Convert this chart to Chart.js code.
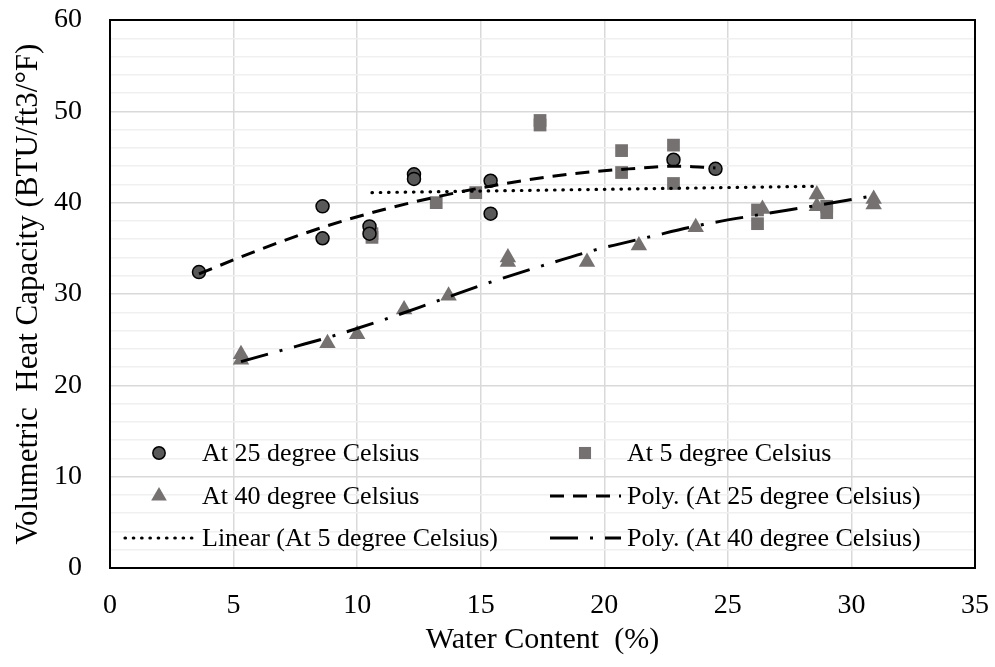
<!DOCTYPE html>
<html>
<head>
<meta charset="utf-8">
<script src="https://cdn.jsdelivr.net/npm/chart.js@4.4.1/dist/chart.umd.min.js"></script>
<style>
  html, body { margin:0; padding:0; background:#fff; }
  #wrap { width:995px; height:667px; }
</style>
</head>
<body>
<div id="wrap"><canvas id="chart" width="995" height="667"></canvas></div>
<script>
// ====== DATA ======
const xTicks = [0, 5, 10, 15, 20, 25, 30, 35];
const yTicks = [0, 10, 20, 30, 40, 50, 60];

// measured points
const wc25  = [3.6, 8.6, 8.6, 10.5, 10.5, 12.3, 12.3, 15.4, 15.4, 22.8, 24.5];
const vhc25 = [32.4, 39.6, 36.1, 37.4, 36.6, 43.1, 42.6, 42.4, 38.8, 44.7, 43.7];

const wc5   = [10.6, 10.6, 13.2, 14.8, 17.4, 17.4, 20.7, 20.7, 22.8, 22.8, 26.2, 26.2, 29.0, 29.0];
const vhc5  = [36.6, 36.2, 40.0, 41.1, 49.0, 48.5, 45.7, 43.3, 46.3, 42.1, 39.2, 37.7, 39.6, 38.9];

const wc40  = [5.3, 5.3, 8.8, 10.0, 11.9, 13.7, 16.1, 16.1, 19.3, 21.4, 23.7, 26.4, 28.6, 28.6, 30.9, 30.9];
const vhc40 = [23.4, 22.8, 24.6, 25.6, 28.3, 29.8, 34.0, 33.5, 33.5, 35.3, 37.3, 39.3, 40.9, 39.6, 40.4, 39.8];

// trendlines
const poly25X = [3.6, 6, 8.6, 11, 13.5, 16, 18.5, 21, 23, 24.5];
const poly25Y = [32.2, 34.8, 37.3, 39.2, 40.8, 42.1, 43.1, 43.7, 44.0, 43.8];

const lin5X = [10.6, 28.7];
const lin5Y = [41.1, 41.8];

const poly40X = [5.3, 6.9, 8.9, 11.1, 13.2, 15.4, 17.5, 19.6, 21.9, 24.0, 26.3, 28.6, 30.9];
const poly40Y = [22.6, 23.8, 25.3, 27.2, 29.2, 31.3, 33.1, 34.8, 36.3, 37.6, 38.7, 39.7, 40.75];
// ==================

const FONT = '"Liberation Serif", "Times New Roman", serif';
const pts = (xs, ys) => xs.map((x, i) => ({ x, y: ys[i] }));

// keep the plot area where the reference has it (labels may overflow)
function noLabelPadding(s){
  s.paddingTop = 0; s.paddingBottom = 0; s.paddingLeft = 0; s.paddingRight = 0;
}

// frame round the plot area
const framePlugin = {
  id: 'frame',
  beforeDatasetsDraw(chart){
    const { ctx, chartArea: a } = chart;
    ctx.save();
    ctx.strokeStyle = '#000';
    ctx.lineWidth = 2;
    ctx.strokeRect(a.left, a.top, a.right - a.left, a.bottom - a.top);
    ctx.restore();
  }
};

// legend inside the plot, two columns
const legendPlugin = {
  id: 'boxLegend',
  afterDatasetsDraw(chart){
    const ctx = chart.ctx;
    const markX = [159, 585], textX = [202, 627], rowY = [453, 496, 538];
    ctx.save();
    ctx.font = '26px ' + FONT;
    ctx.textBaseline = 'middle';
    chart.data.datasets.forEach((ds, i) => {
      const col = i % 2, row = Math.floor(i / 2);
      const y = rowY[row];
      if (ds.showLine) {
        ctx.save();
        ctx.strokeStyle = ds.borderColor;
        ctx.lineWidth = ds.borderWidth;
        ctx.lineCap = ds.borderCapStyle || 'butt';
        ctx.setLineDash(ds.borderDash || []);
        ctx.beginPath();
        ctx.moveTo(textX[col] - 77, y);
        ctx.lineTo(textX[col] - 6, y);
        ctx.stroke();
        ctx.restore();
      } else {
        ctx.save();
        ctx.fillStyle = ds.backgroundColor;
        ctx.strokeStyle = ds.borderColor;
        ctx.lineWidth = ds.borderWidth;
        Chart.helpers.drawPoint(ctx, {
          pointStyle: ds.pointStyle, radius: ds.pointRadius * 0.95,
          rotation: 0, borderWidth: ds.borderWidth
        }, markX[col], y);
        ctx.restore();
      }
      ctx.fillStyle = '#000';
      ctx.fillText(ds.label, textX[col], y + 1);
    });
    ctx.restore();
  }
};

const chart = new Chart(document.getElementById('chart'), {
  type: 'scatter',
  data: {
    datasets: [
      {
        label: 'At 25 degree Celsius', data: pts(wc25, vhc25),
        pointStyle: 'circle', pointRadius: 6.5,
        backgroundColor: '#595959', borderColor: '#000', borderWidth: 1.5, order: 1
      },
      {
        label: 'At 5 degree Celsius', data: pts(wc5, vhc5),
        pointStyle: 'rect', pointRadius: 9,
        backgroundColor: '#767171', borderColor: '#767171', borderWidth: 0, order: 1
      },
      {
        label: 'At 40 degree Celsius', data: pts(wc40, vhc40),
        pointStyle: 'triangle', pointRadius: 9.5,
        backgroundColor: '#767171', borderColor: '#767171', borderWidth: 0, order: 1
      },
      {
        label: 'Poly. (At 25 degree Celsius)', data: pts(poly25X, poly25Y),
        showLine: true, pointRadius: 0, borderColor: '#000', borderWidth: 3,
        borderDash: [14, 9], cubicInterpolationMode: 'monotone', order: 0
      },
      {
        label: 'Linear (At 5 degree Celsius)', data: pts(lin5X, lin5Y),
        showLine: true, pointRadius: 0, borderColor: '#000', borderWidth: 3.2,
        borderDash: [0.5, 7.8], borderCapStyle: 'round', order: 0
      },
      {
        label: 'Poly. (At 40 degree Celsius)', data: pts(poly40X, poly40Y),
        showLine: true, pointRadius: 0, borderColor: '#000', borderWidth: 3,
        borderDash: [28, 12, 3, 12], cubicInterpolationMode: 'monotone', order: 0
      }
    ]
  },
  options: {
    responsive: false,
    animation: false,
    devicePixelRatio: 1,
    layout: { padding: { top: 20, right: 20, left: 0, bottom: 0 } },
    plugins: { legend: { display: false }, tooltip: { enabled: false } },
    scales: {
      x: {
        type: 'linear', min: 0, max: 35,
        afterBuildTicks: s => { s.ticks = xTicks.map(v => ({ value: v })); },
        afterFit: s => { s.height = 99; noLabelPadding(s); },
        ticks: { font: { family: FONT, size: 28 }, color: '#000', padding: 21, autoSkip: false, maxRotation: 0 },
        grid: { color: '#d9d9d9', lineWidth: 1.5, drawTicks: false },
        border: { display: false },
        title: {
          display: true, text: 'Water Content  (%)', color: '#000',
          font: { family: FONT, size: 30 }, padding: { bottom: 9, top: 0 }
        }
      },
      y: {
        type: 'linear', min: 0, max: 60,
        ticks: {
          stepSize: 2, autoSkip: false, font: { family: FONT, size: 28 }, color: '#000', padding: 28,
          callback: v => yTicks.includes(v) ? v : ''
        },
        afterFit: s => { s.width = 110; noLabelPadding(s); },
        grid: {
          color: c => c.tick && c.tick.value % 10 === 0 ? '#d9d9d9' : '#f0f0f0',
          lineWidth: 1.5, drawTicks: false
        },
        border: { display: false },
        title: {
          display: true, text: 'Volumetric  Heat Capacity (BTU/ft3/°F)', color: '#000',
          font: { family: FONT, size: 31 }, padding: { top: 10, bottom: 0 }
        }
      }
    }
  },
  plugins: [framePlugin, legendPlugin]
});
</script>
</body>
</html>
